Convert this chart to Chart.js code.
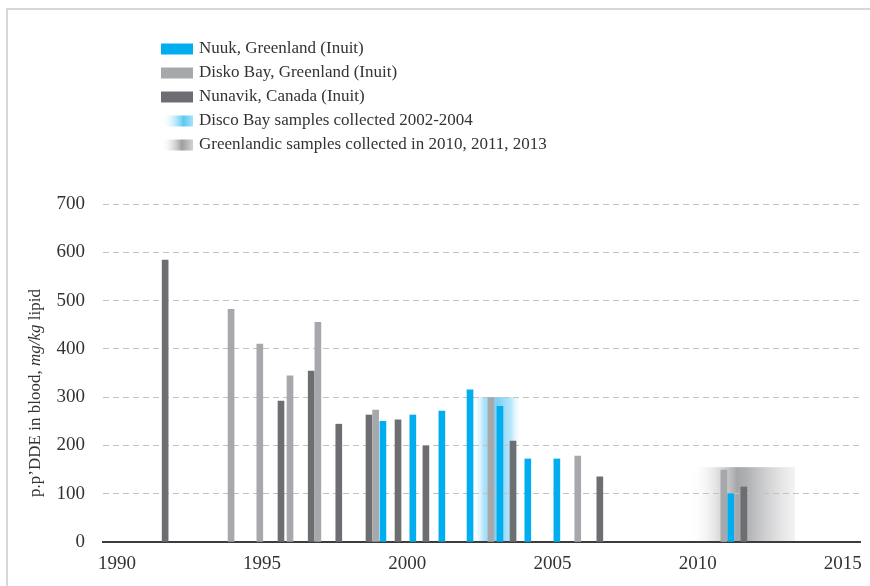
<!DOCTYPE html>
<html>
<head>
<meta charset="utf-8">
<title>p,p'-DDE in Inuit blood</title>
<script src="https://cdn.jsdelivr.net/npm/chart.js@4/dist/chart.umd.min.js"></script>
<style>
  html, body { margin: 0; padding: 0; background: #fff; }
  #wrap { width: 870px; height: 586px; position: relative; }
</style>
</head>
<body>
<div id="wrap"><canvas id="chart" width="870" height="586"></canvas></div>
<script>
// Sampling years (fractional, so bars from the same year sit side by side) and p,p'-DDE levels
const nuukYears = [1999.16, 2000.19, 2001.19, 2002.16, 2003.19, 2004.15, 2005.15, 2011.14];
const nuukValues = [250, 263, 271, 315, 281, 172, 172, 100];

const diskoYears = [1993.93, 1994.92, 1995.96, 1996.92, 1998.91, 2002.88, 2005.87, 2010.90];
const diskoValues = [482, 410, 344, 455, 273, 299, 178, 149];

const nunavikYears = [1991.66, 1995.65, 1996.69, 1997.64, 1998.68, 1999.68, 2000.64, 2003.64, 2006.63, 2011.59];
const nunavikValues = [584, 292, 354, 244, 263, 253, 199, 209, 135, 114];

// Shaded sampling periods: [from, to, height]
const discoBand = [2002.26, 2003.95, 300];
const greenlandBand = [2009.73, 2013.35, 155];

const xTicks = [1990, 1995, 2000, 2005, 2010, 2015];
const yTicks = [0, 100, 200, 300, 400, 500, 600, 700];

const legendLabels = [
  'Nuuk, Greenland (Inuit)',
  'Disko Bay, Greenland (Inuit)',
  'Nunavik, Canada (Inuit)',
  'Disco Bay samples collected 2002-2004',
  'Greenlandic samples collected in 2010, 2011, 2013'
];

const BLUE = '#00aeef';
const LIGHT = '#a7a8ab';
const DARK = '#6d6e71';
const SERIF = '"Liberation Serif", "DejaVu Serif", serif';

const toPoints = (xs, ys) => xs.map((x, i) => ({ x, y: ys[i] }));

function blueGradient(ctx, x0, x1) {
  const g = ctx.createLinearGradient(x0, 0, x1, 0);
  g.addColorStop(0, 'rgba(255,255,255,0)');
  g.addColorStop(0.22, 'rgba(140,214,247,0.7)');
  g.addColorStop(0.5, 'rgba(95,200,243,0.85)');
  g.addColorStop(0.78, 'rgba(140,214,247,0.6)');
  g.addColorStop(1, 'rgba(255,255,255,0)');
  return g;
}

function grayGradient(ctx, x0, x1) {
  const g = ctx.createLinearGradient(x0, 0, x1, 0);
  g.addColorStop(0, 'rgba(255,255,255,0)');
  g.addColorStop(0.45, 'rgba(160,161,164,0.95)');
  g.addColorStop(0.55, 'rgba(168,169,172,0.9)');
  g.addColorStop(1, 'rgba(235,235,236,0.6)');
  return g;
}

// Shaded periods go in before the grid so the dashes stay visible on top
const bandsPlugin = {
  id: 'bands',
  beforeDraw(chart) {
    const { ctx, scales: { x, y } } = chart;
    const bands = [
      [discoBand, blueGradient],
      [greenlandBand, grayGradient]
    ];
    ctx.save();
    for (const [[from, to, top], grad] of bands) {
      const x0 = x.getPixelForValue(from);
      const x1 = x.getPixelForValue(to);
      const y0 = y.getPixelForValue(top);
      const y1 = y.getPixelForValue(0);
      ctx.fillStyle = grad(ctx, x0, x1);
      ctx.fillRect(x0, y0, x1 - x0, y1 - y0);
    }
    ctx.restore();
  }
};

// Frame, legend and rotated axis title (with the italic unit)
const decorPlugin = {
  id: 'decor',
  afterDraw(chart) {
    const { ctx } = chart;
    ctx.save();

    ctx.strokeStyle = '#cacaca';
    ctx.lineWidth = 1.5;
    ctx.beginPath();
    ctx.moveTo(7, 586);
    ctx.lineTo(7, 9);
    ctx.lineTo(870, 9);
    ctx.stroke();

    const swX = 161, swW = 32, swH = 11, textX = 199;
    legendLabels.forEach((label, i) => {
      const cy = 49 + i * 24;
      if (i === 0) ctx.fillStyle = BLUE;
      else if (i === 1) ctx.fillStyle = LIGHT;
      else if (i === 2) ctx.fillStyle = DARK;
      else if (i === 3) {
        const g = ctx.createLinearGradient(swX, 0, swX + swW, 0);
        g.addColorStop(0, 'rgba(255,255,255,0)');
        g.addColorStop(0.7, '#5cc9f3');
        g.addColorStop(1, '#a9e1f8');
        ctx.fillStyle = g;
      } else {
        const g = ctx.createLinearGradient(swX, 0, swX + swW, 0);
        g.addColorStop(0, 'rgba(255,255,255,0)');
        g.addColorStop(0.65, '#9d9ea1');
        g.addColorStop(1, '#d2d2d4');
        ctx.fillStyle = g;
      }
      ctx.fillRect(swX, cy - swH / 2, swW, swH);
      ctx.fillStyle = '#333';
      ctx.font = '17px ' + SERIF;
      ctx.textBaseline = 'middle';
      ctx.textAlign = 'left';
      ctx.fillText(label, textX, cy);
    });

    const parts = [
      ['p.p\u2019DDE in blood, ', 'normal'],
      ['mg/kg', 'italic'],
      [' lipid', 'normal']
    ];
    let total = 0;
    for (const [t, s] of parts) {
      ctx.font = s + ' 17px ' + SERIF;
      total += ctx.measureText(t).width;
    }
    ctx.translate(36, 393);
    ctx.rotate(-Math.PI / 2);
    ctx.textBaseline = 'middle';
    ctx.textAlign = 'left';
    ctx.fillStyle = '#333';
    let pos = -total / 2;
    for (const [t, s] of parts) {
      ctx.font = s + ' 17px ' + SERIF;
      ctx.fillText(t, pos, 0);
      pos += ctx.measureText(t).width;
    }
    ctx.restore();
  }
};

const barDefaults = { barThickness: 6, grouped: false, borderWidth: 0 };

new Chart(document.getElementById('chart'), {
  type: 'bar',
  data: {
    datasets: [
      { label: legendLabels[0], data: toPoints(nuukYears, nuukValues), backgroundColor: BLUE, ...barDefaults },
      { label: legendLabels[1], data: toPoints(diskoYears, diskoValues), backgroundColor: LIGHT, ...barDefaults },
      { label: legendLabels[2], data: toPoints(nunavikYears, nunavikValues), backgroundColor: DARK, ...barDefaults }
    ]
  },
  options: {
    responsive: false,
    animation: false,
    layout: { padding: { top: 204, right: 10, left: 0, bottom: 0 } },
    plugins: {
      legend: { display: false },
      tooltip: { enabled: false }
    },
    scales: {
      x: {
        type: 'linear',
        offset: false,
        min: 1989.52,
        max: 2015.59,
        afterFit: (scale) => {
          scale.height = 44;
          scale.paddingLeft = 0;
          scale.paddingRight = 0;
        },
        afterBuildTicks: (scale) => { scale.ticks = xTicks.map(v => ({ value: v })); },
        grid: { display: false, drawTicks: false },
        border: { display: true, color: '#3c3c3c', width: 2 },
        ticks: {
          padding: 11,
          maxRotation: 0,
          autoSkip: false,
          color: '#333',
          font: { family: SERIF, size: 19 },
          callback: (v) => String(v)
        }
      },
      y: {
        min: 0,
        max: 700,
        afterFit: (scale) => { scale.width = 103; },
        afterBuildTicks: (scale) => { scale.ticks = yTicks.map(v => ({ value: v })); },
        grid: { color: '#c2c2c2', lineWidth: 1, drawTicks: false },
        border: { display: false, dash: [6, 4] },
        ticks: {
          padding: 18,
          color: '#333',
          font: { family: SERIF, size: 19 },
          callback: (v) => String(v)
        }
      }
    }
  },
  plugins: [bandsPlugin, decorPlugin]
});
</script>
</body>
</html>
